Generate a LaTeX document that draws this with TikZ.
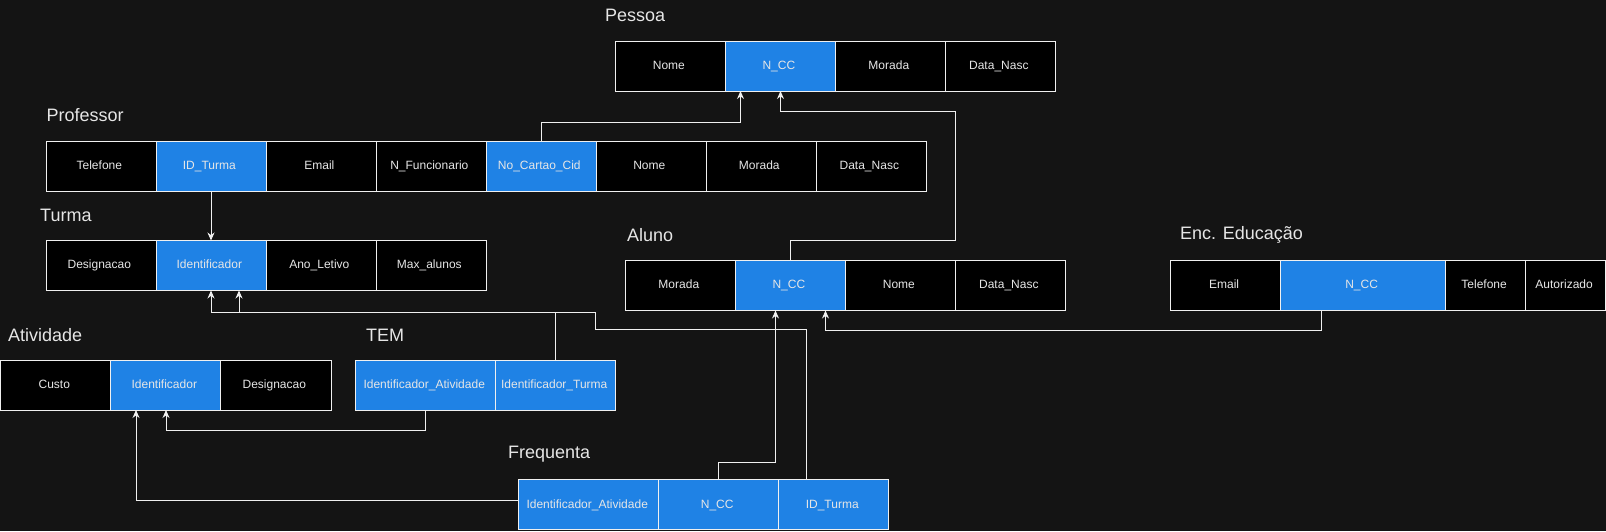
\documentclass[tikz,border=0pt]{standalone}
\usepackage{fontspec}
\setmainfont{Liberation Sans}
\usepackage{xcolor}
\usetikzlibrary{positioning,matrix,calc,arrows.meta}
\definecolor{canvas}{HTML}{141414}
\definecolor{pkblue}{HTML}{1F82E5}
\definecolor{ink}{HTML}{E6E6E6}
\definecolor{edge}{HTML}{F0F0F0}
\tikzset{
    cell nodes/.style={
        draw=edge,
        fill=black,
        text=ink,
        align=center,
        inner sep=0pt,
        line width=1pt,
        minimum height=50pt,
        minimum width =110pt,
        font=\fontsize{12}{14}\selectfont,
        text depth=2.5pt,
        text height=9pt
    },
    relation/.style={
        matrix of nodes,
        row sep=-1pt,
        column sep=-1pt,
        inner sep=0pt,
        outer sep=0pt,
        anchor=north west,
        nodes={
            cell nodes
          }
     },
    pk/.style={fill=pkblue},
    relname/.style={
        text=ink,
        anchor=west,
        inner sep=0pt,
        font=\fontsize{18}{21}\selectfont
    },
    ref line/.style={
        draw=edge,
        line width=1pt,
        -{Stealth[length=8pt,width=7pt]}
    }
}
\begin{document}
\begin{tikzpicture}[x=1pt,y=-1pt]
            \fill[canvas] (0,0) rectangle (1606,531);
            \useasboundingbox (0,0) rectangle (1606,531);
            % relation names
            \node[relname] (nPessoa) at (605,15) {Pessoa};
            \node[relname] (nProfessor) at (46.5,115) {Professor};
            \node[relname] (nTurma) at (40,215) {Turma};
            \node[relname] (nAtividade) at (8,335) {Atividade};
            \node[relname] (nTem) at (366,335) {TEM};
            \node[relname] (nAluno) at (627,235) {Aluno};
            \node[relname] (nEnc) at (1180,235) {Enc. Educação};
            \node[relname] (nFrequenta) at (508,454) {Frequenta};
            % tables
            \matrix[relation] (P) at (615,40.5)
            { Nome & |[pk]| N\_CC & Morada & Data\_Nasc \\ };
            \matrix[relation] (Pr) at (45.5,140.5)
            { Telefone & |[pk]| ID\_Turma & Email & N\_Funcionario & |[pk]| No\_Cartao\_Cid & Nome & Morada & Data\_Nasc \\ };
            \matrix[relation] (T) at (45.5,240)
            { Designacao & |[pk]| Identificador & Ano\_Letivo & Max\_alunos \\ };
            \matrix[relation] (A) at (0.5,359.5)
            { Custo & |[pk]| Identificador & Designacao \\ };
            \matrix[relation] (Tm) at (355.4,359.5)
            { |[pk,minimum width=140pt]| Identificador\_Atividade & |[pk,minimum width=120pt]| Identificador\_Turma \\ };
            \matrix[relation] (Al) at (625,260)
            { Morada & |[pk]| N\_CC & Nome & Data\_Nasc \\ };
            \matrix[relation] (En) at (1170.3,260)
            { Email & |[pk,minimum width=165pt]| N\_CC & |[minimum width=80pt]| Telefone & |[minimum width=80pt]| Autorizado \\ };
            \matrix[relation] (F) at (518.4,479.3)
            { |[pk,minimum width=140pt]| Identificador\_Atividade & |[pk,minimum width=120pt]| N\_CC & |[pk]| ID\_Turma \\ };
            % foreign keys
            \draw[ref line] (Pr-1-5.north) |- ($(P-1-2.south)+(-40,31)$) -- ($(P-1-2.south)+(-40,0)$);
            \draw[ref line] (Al-1-2.north) |- ($(Al-1-3.north east)+(0,-20)$) |- ($(P-1-2.south)+(0,20)$) -- (P-1-2.south);
            \draw[ref line] (Pr-1-2.south) -- (T-1-2.north);
            \draw[ref line] (Tm-1-2.north) |- ($(T-1-2.south)+(28,21.5)$) -- ($(T-1-2.south)+(28,0)$);
            \draw[ref line] ($(F-1-3.north west)+(27.5,0)$) |- ($(Tm-1-2.north east)+(-20,-31)$) |- ($(T-1-2.south)+(0,21.5)$) -- (T-1-2.south);
            \draw[ref line] (Tm-1-1.south) |- ($(A-1-2.south)+(0,20)$) -- (A-1-2.south);
            \draw[ref line] ([yshift=4pt]F-1-1.west) -| ($(A-1-2.south)+(-30,0)$);
            \draw[ref line] (F-1-2.north) |- ($(Al-1-2.south)+(-15,152)$) -- ($(Al-1-2.south)+(-15,0)$);
            \draw[ref line] ($(En-1-2.south west)+(41,0)$) |- ($(Al-1-2.south)+(35,20)$) -- ($(Al-1-2.south)+(35,0)$);
          \end{tikzpicture}
\end{document}
